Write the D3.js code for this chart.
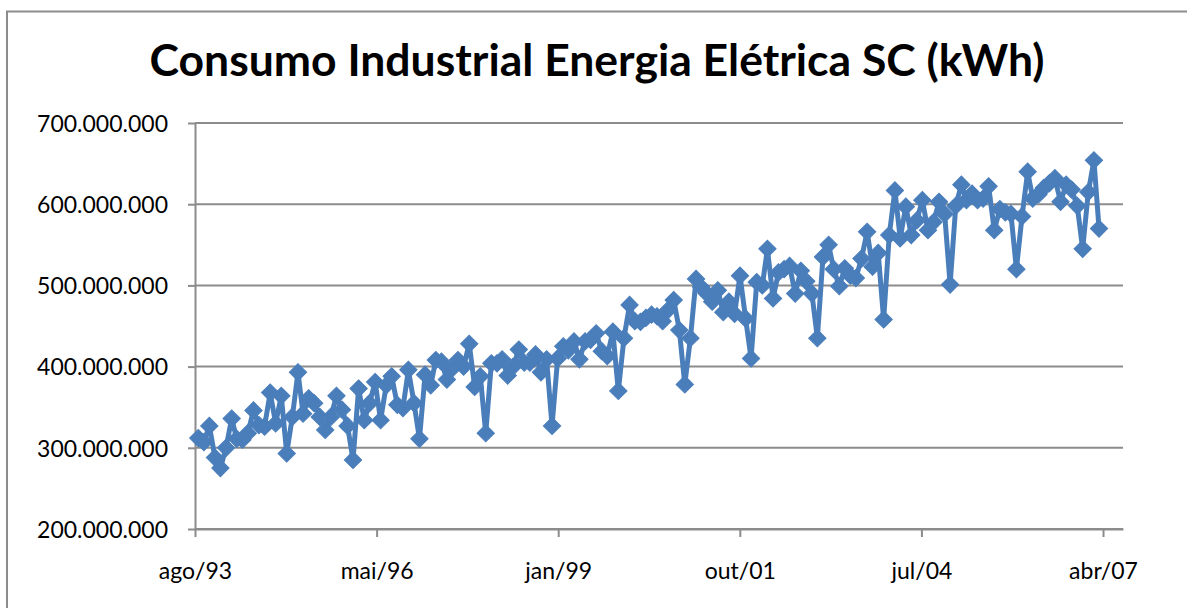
<!DOCTYPE html>
<html>
<head>
<meta charset="utf-8">
<script src="https://cdn.jsdelivr.net/npm/d3@7"></script>
<style>
  body { margin: 0; background: #fff; }
  text { font-family: Lato, "Open Sans", sans-serif; fill: #000; }
</style>
</head>
<body>
<div id="chart"></div>
<script>
// monthly industrial consumption, millions of kWh, ago/93 .. mar/07
var inicio = { ano: 1993, mes: 7 };   // august 1993 (0-based month)
var consumo1993 = [312, 307, 327, 288, 275];
var consumo1994 = [300, 336, 311, 310, 318, 346, 328, 326, 368, 330, 364, 293];
var consumo1995 = [338, 393, 342, 361, 355, 338, 322, 338, 364, 347, 327, 285];
var consumo1996 = [373, 334, 355, 381, 334, 377, 388, 353, 349, 396, 355, 311];
var consumo1997 = [390, 377, 408, 406, 384, 398, 408, 400, 428, 375, 388, 318];
var consumo1998 = [404, 404, 409, 389, 400, 421, 405, 405, 415, 393, 409, 327];
var consumo1999 = [410, 425, 420, 431, 409, 431, 433, 441, 419, 413, 443, 370];
var consumo2000 = [435, 476, 456, 455, 460, 464, 462, 456, 470, 482, 445, 378];
var consumo2001 = [435, 508, 498, 490, 480, 494, 467, 480, 465, 512, 459, 410];
var consumo2002 = [504, 500, 545, 484, 516, 520, 524, 490, 518, 505, 490, 435];
var consumo2003 = [535, 550, 520, 499, 521, 512, 509, 533, 566, 523, 540, 458];
var consumo2004 = [562, 617, 558, 597, 562, 580, 605, 568, 578, 603, 588, 501];
var consumo2005 = [598, 624, 605, 613, 605, 607, 622, 568, 594, 590, 588, 520];
var consumo2006 = [585, 640, 607, 612, 620, 626, 632, 603, 624, 618, 598, 545];
var consumo2007 = [615, 654, 570];

// axis labels
var mesesAbrev = ["jan", "fev", "mar", "abr", "mai", "jun", "jul", "ago", "set", "out", "nov", "dez"];
var yTicks = [200, 300, 400, 500, 600, 700];
var titulo = "Consumo Industrial Energia Elétrica SC (kWh)";

var svgWidth = 1187;
var svgHeight = 608;

var margin = { top: 123, right: 64, bottom: 79, left: 195 };
var width = svgWidth - margin.left - margin.right;
var height = svgHeight - margin.top - margin.bottom;

var serie = [].concat(consumo1993, consumo1994, consumo1995, consumo1996, consumo1997,
    consumo1998, consumo1999, consumo2000, consumo2001, consumo2002, consumo2003,
    consumo2004, consumo2005, consumo2006, consumo2007);

var dados = serie.map(function (v, i) {
    return { data: new Date(inicio.ano, inicio.mes + i, 24), valor: v };
});

var svg = d3.select("#chart")
    .append("svg")
    .attr("width", svgWidth)
    .attr("height", svgHeight);

// chart frame (only left and top edges are inside the picture)
svg.append("rect")
    .attr("x", 7)
    .attr("y", 11.5)
    .attr("width", svgWidth + 10)
    .attr("height", svgHeight + 10)
    .attr("fill", "none")
    .attr("stroke", "#8c8c8c")
    .attr("stroke-width", 2);

// title, fitted to the reference width
var tituloText = svg.append("text")
    .attr("x", 597)
    .attr("y", 76)
    .attr("text-anchor", "middle")
    .style("font-weight", "bold")
    .style("font-size", "44px")
    .text(titulo);
var tLen = tituloText.node().getComputedTextLength();
tituloText.style("font-size", (44 * 895 / tLen) + "px");

var chartGroup = svg.append("g")
    .attr("transform", `translate(${margin.left}, ${margin.top})`);

// time axis, Excel style: major unit of 1000 days
var axisStart = new Date(1993, 7, 6);
var xScale = d3.scaleTime()
    .domain([axisStart, d3.timeDay.offset(axisStart, 5110)])
    .range([0, width]);

var yScale = d3.scaleLinear()
    .domain([200, 700])
    .range([height, 0]);

var ptBR = d3.timeFormatLocale({
    dateTime: "%d/%m/%Y %H:%M:%S", date: "%d/%m/%Y", time: "%H:%M:%S",
    periods: ["AM", "PM"],
    days: ["domingo", "segunda", "terça", "quarta", "quinta", "sexta", "sábado"],
    shortDays: ["dom", "seg", "ter", "qua", "qui", "sex", "sáb"],
    months: mesesAbrev, shortMonths: mesesAbrev
});
var numBR = d3.formatLocale({ decimal: ",", thousands: ".", grouping: [3], currency: ["R$", ""] });
var fmtNum = numBR.format(",.0f");

var xTickValues = d3.range(0, 6).map(function (k) { return d3.timeDay.offset(axisStart, k * 1000); });

// gridlines
chartGroup.selectAll(".grid")
    .data(yTicks)
    .enter()
    .append("line")
    .attr("x1", 0)
    .attr("x2", width)
    .attr("y1", d => yScale(d))
    .attr("y2", d => yScale(d))
    .attr("stroke", "#8c8c8c")
    .attr("stroke-width", 2);

// y axis
var leftAxis = d3.axisLeft(yScale)
    .tickValues(yTicks)
    .tickSize(7)
    .tickSizeOuter(0)
    .tickPadding(20)
    .tickFormat(d => fmtNum(d * 1e6));

var yAxis = chartGroup.append("g").call(leftAxis);
yAxis.select(".domain").attr("stroke", "#8c8c8c").attr("stroke-width", 2);
yAxis.selectAll(".tick line").attr("stroke", "#8c8c8c").attr("stroke-width", 2);
yAxis.selectAll("text")
    .style("font-size", "23px")
    .attr("dy", "0.36em");

// x axis
var bottomAxis = d3.axisBottom(xScale)
    .tickValues(xTickValues)
    .tickSize(8)
    .tickSizeOuter(0)
    .tickPadding(26)
    .tickFormat(ptBR.format("%b/%y"));

var xAxis = chartGroup.append("g")
    .attr("transform", `translate(0, ${height})`)
    .call(bottomAxis);
xAxis.select(".domain").attr("stroke", "#8c8c8c").attr("stroke-width", 2);
xAxis.selectAll(".tick line").attr("stroke", "#8c8c8c").attr("stroke-width", 2);
xAxis.selectAll("text").style("font-size", "23px");

// series line
var linha = d3.line()
    .x(d => xScale(d.data))
    .y(d => yScale(d.valor));

chartGroup.append("path")
    .datum(dados)
    .attr("d", linha)
    .attr("fill", "none")
    .attr("stroke", "#4a7ebb")
    .attr("stroke-width", 5)
    .attr("stroke-linejoin", "round");

// diamond markers
chartGroup.selectAll(".marker")
    .data(dados)
    .enter()
    .append("path")
    .attr("d", d3.symbol().type(d3.symbolSquare).size(150))
    .attr("transform", d => `translate(${xScale(d.data)}, ${yScale(d.valor)}) rotate(45)`)
    .attr("fill", "#4a7ebb")
    .attr("stroke", "#4a7ebb")
    .attr("stroke-width", 1);
</script>
</body>
</html>
